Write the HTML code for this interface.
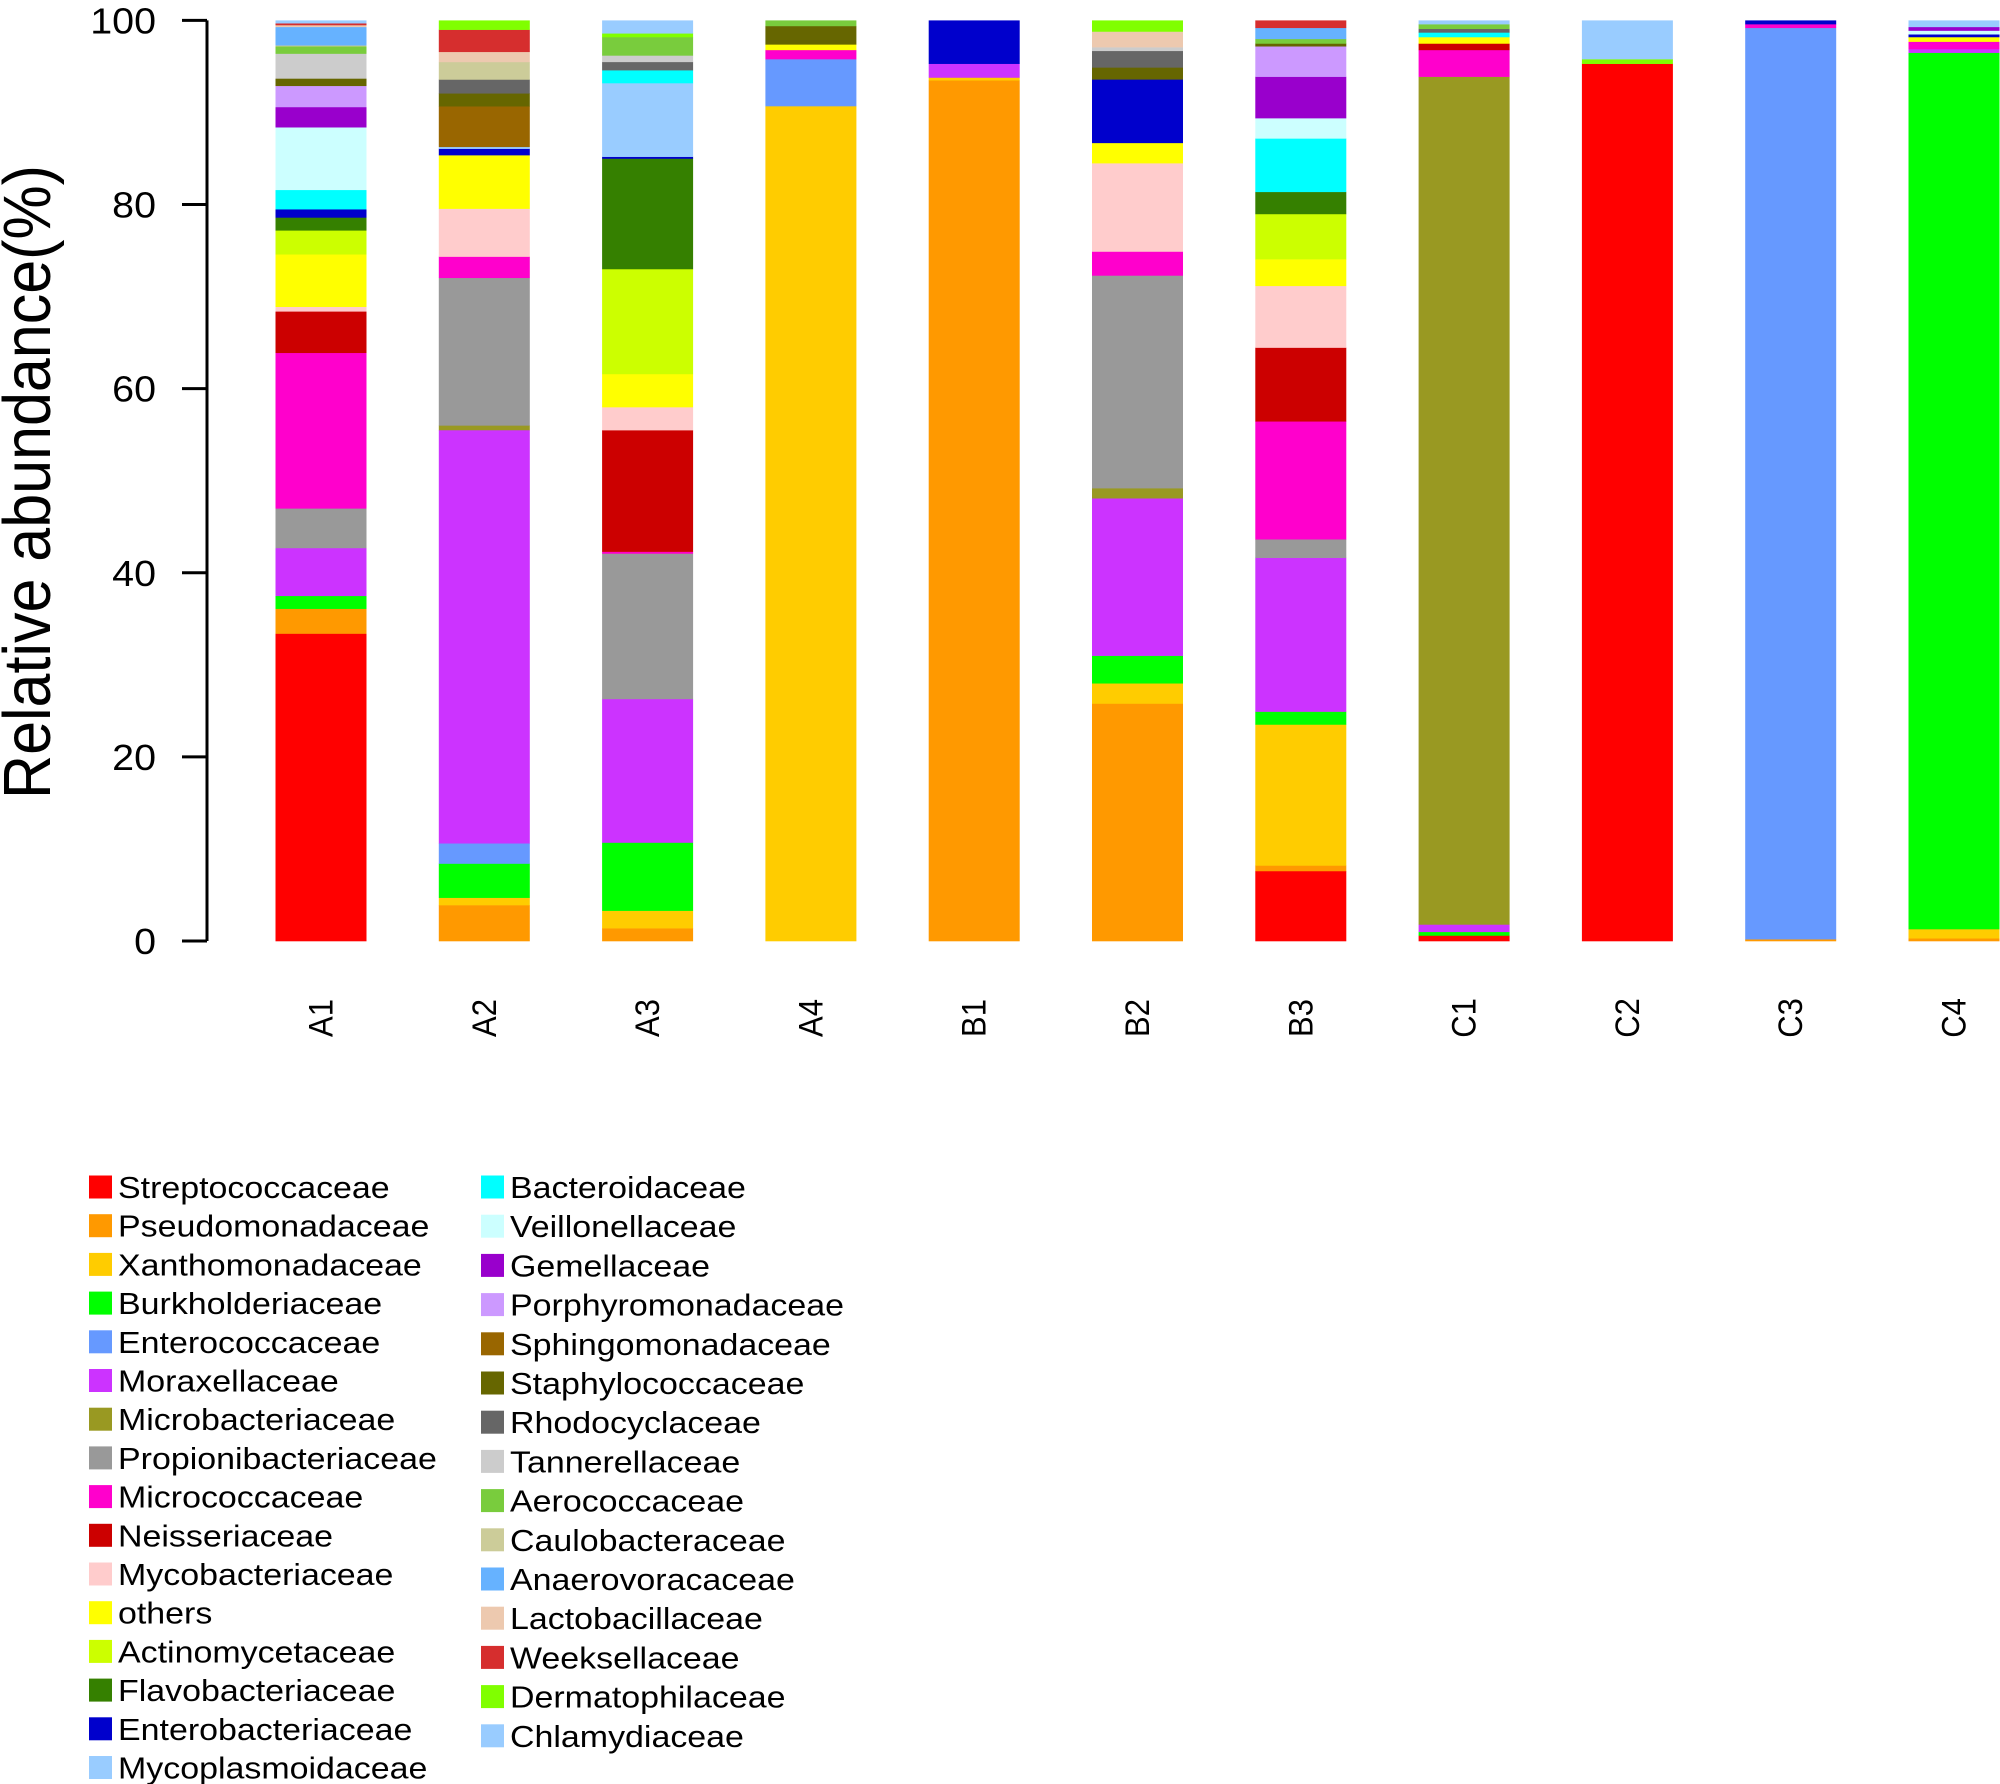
<!DOCTYPE html>
<html><head><meta charset="utf-8">
<style>
html,body{margin:0;padding:0;background:#fff;}
svg{display:block;font-family:"Liberation Sans",Arial,sans-serif;}
</style></head>
<body>
<svg id="chart" width="2000" height="1784" viewBox="0 0 2000 1784" xmlns="http://www.w3.org/2000/svg"></svg>
<script>
const samples = ["A1","A2","A3","A4","B1","B2","B3","C1","C2","C3","C4"];
const families = ["Streptococcaceae","Pseudomonadaceae","Xanthomonadaceae","Burkholderiaceae","Enterococcaceae","Moraxellaceae","Microbacteriaceae","Propionibacteriaceae","Micrococcaceae","Neisseriaceae","Mycobacteriaceae","others","Actinomycetaceae","Flavobacteriaceae","Enterobacteriaceae","Mycoplasmoidaceae","Bacteroidaceae","Veillonellaceae","Gemellaceae","Porphyromonadaceae","Sphingomonadaceae","Staphylococcaceae","Rhodocyclaceae","Tannerellaceae","Aerococcaceae","Caulobacteraceae","Anaerovoracaceae","Lactobacillaceae","Weeksellaceae","Dermatophilaceae","Chlamydiaceae"];
const colors = ["#FF0000","#FF9900","#FFCC00","#00FF00","#6699FF","#CC33FF","#999922","#999999","#FF00CC","#CC0000","#FFCCCC","#FFFF00","#CCFF00","#358000","#0000CC","#99CCFF","#00FFFF","#CCFFFF","#9900CC","#CC99FF","#996600","#666600","#666666","#CCCCCC","#79CC3D","#CCCC99","#66B2FF","#EDC9AF","#D62E2E","#80FF00","#99CCFF"];
const yTicks = [0,20,40,60,80,100];
const valA1 = [33.4,2.7,0,1.4,0,5.2,0,4.3,16.9,4.5,0.5,5.7,2.6,1.4,0.9,0,2.1,6.8,2.2,2.3,0,0.8,0,2.7,0.8,0.1,2.0,0.2,0.2,0,0.3];
const valA2 = [0,3.9,0.8,3.7,2.2,44.8,0.5,16.0,2.3,0,5.2,5.8,0,0,0.7,0.2,0,0,0,0,4.4,1.4,1.5,0,0,1.9,0,1.1,2.4,1.0,0];
const valA3 = [0,1.4,1.9,7.4,0,15.6,0,15.8,0.2,13.2,2.5,3.6,11.4,12.0,0.2,8.0,1.4,0,0,0,0,0,0.9,0.7,2.0,0,0,0,0,0.4,1.4];
const valA4 = [0,0,90.7,0,5.1,0,0,0,1.0,0,0,0.6,0,0,0,0,0,0,0,0,0,2.0,0,0,0.6,0,0,0,0,0,0];
const valB1 = [0,93.5,0.3,0,0,1.5,0,0,0,0,0,0,0,0,4.7,0,0,0,0,0,0,0,0,0,0,0,0,0,0,0,0];
const valB2 = [0,25.8,2.2,3.0,0,17.1,1.1,23.1,2.6,0,9.6,2.2,0,0,6.9,0,0,0,0,0,0,1.3,1.8,0.4,0,0,0,1.7,0,1.2,0];
const valB3 = [7.6,0.6,15.3,1.4,0,16.7,0,2.0,12.8,8.0,6.7,2.9,4.9,2.4,0,0,5.8,2.2,4.5,3.3,0,0.3,0,0,0.5,0,1.2,0,0.8,0,0];
const valC1 = [0.6,0,0,0.4,0,0.8,92.0,0,2.9,0.7,0,0.7,0,0,0,0,0.5,0,0,0,0,0,0.4,0,0.5,0,0,0,0,0,0.4];
const valC2 = [95.3,0,0,0,0,0,0,0,0,0,0,0,0,0,0,0,0,0,0,0,0,0,0,0,0,0,0,0,0,0.5,4.2];
const valC3 = [0,0.2,0,0,99.0,0,0,0,0.4,0,0,0,0,0,0.4,0,0,0,0,0,0,0,0,0,0,0,0,0,0,0,0];
const valC4 = [0,0.3,1.0,95.2,0,0.4,0,0,0.8,0,0,0.5,0,0,0.3,0,0,0.4,0.4,0,0,0,0,0,0,0,0,0,0,0,0.7];
const sampleValues = [valA1,valA2,valA3,valA4,valB1,valB2,valB3,valC1,valC2,valC3,valC4];

const NS = "http://www.w3.org/2000/svg";
const svg = document.getElementById("chart");
const Y0 = 941, Y100 = 20.4;
function yScale(v){ return Y0 - (v/100)*(Y0 - Y100); }
const BAR_W = 91, STEP = 163.3, FIRST_LEFT = 275.5;
const SX = 1.095;
function xLeft(i){ return FIRST_LEFT + i*STEP; }
function mk(tag, attrs){ const e=document.createElementNS(NS,tag); for(const k in attrs) e.setAttribute(k,attrs[k]); return e; }

const axis = mk("line",{x1:207,y1:Y100,x2:207,y2:Y0,stroke:"#000","stroke-width":3});


svg.appendChild(axis);
yTicks.forEach(t=>{
  const y=yScale(t);
  const tk=mk("line",{x1:182,y1:y,x2:207,y2:y,stroke:"#000","stroke-width":3});
  
  
  svg.appendChild(tk);
  const lb=mk("text",{x:0,y:0,"text-anchor":"end","font-size":36,fill:"#000",transform:"translate(156,"+(y+13)+") scale("+SX+",1)"});
  lb.textContent=t;
  
  
  svg.appendChild(lb);
});
const yt=mk("text",{x:0,y:0,"text-anchor":"middle","font-size":61,fill:"#000",transform:"translate(50,482) rotate(-90) scale(1,1.1)"});
yt.textContent="Relative abundance(%)";


svg.appendChild(yt);

sampleValues.forEach((vals,i)=>{
  const total = vals.reduce((a,b)=>a+b,0);
  let cum=0;
  const g=mk("g",{});
  
  
  vals.forEach((v,j)=>{
    if(v<=0) return;
    const a=cum/total*100, b=(cum+v)/total*100;
    cum+=v;
    const r=mk("rect",{x:xLeft(i),y:yScale(b),width:BAR_W,height:yScale(a)-yScale(b)+0.3,fill:colors[j]});
    
    
    g.appendChild(r);
  });
  svg.appendChild(g);
  const cx=xLeft(i)+BAR_W/2;
  const lb=mk("text",{x:0,y:0,"text-anchor":"middle","dominant-baseline":"central","font-size":31,fill:"#000",transform:"translate("+cx+",1018) rotate(-90) scale(1,"+SX+")"});
  lb.textContent=samples[i];
  
  
  svg.appendChild(lb);
});

families.forEach((f,j)=>{
  const col = j<16?0:1;
  const row = j<16?j:j-16;
  const sx = col===0?89:481;
  const cy = 1187 + row*(col===0?38.7:39.2);
  const g=mk("g",{});
  
  
  const r=mk("rect",{x:sx,y:cy-11.5,width:23,height:23,fill:colors[j]});
  
  
  const t=mk("text",{x:0,y:0,"font-size":31,fill:"#000",transform:"translate("+(sx+29)+","+(cy+11)+") scale("+SX+",1)"});
  t.textContent=f;
  
  
  g.appendChild(r); g.appendChild(t);
  svg.appendChild(g);
});
</script>
</body></html>
